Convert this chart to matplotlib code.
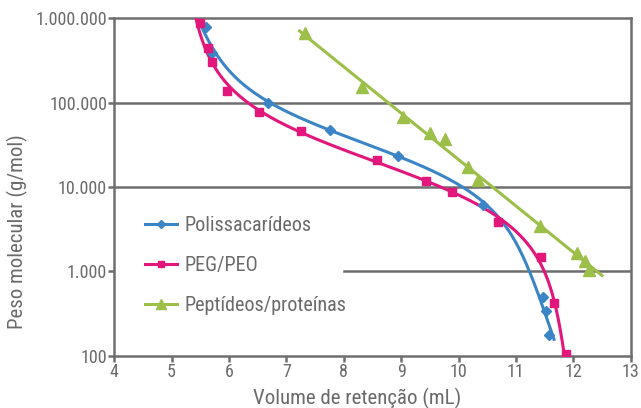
import numpy as np
import matplotlib.pyplot as plt

plt.rcParams['font.family'] = ['Roboto Condensed', 'Liberation Sans Narrow', 'Roboto', 'DejaVu Sans']

# values
poli_x = [5.60, 5.71, 6.68, 7.76, 8.95, 10.42, 11.48, 11.53, 11.58]
poli_y = [795000, 391000, 100000, 47400, 23500, 6120, 500, 339, 176]

peg_x = [5.50, 5.63, 5.70, 5.96, 6.52, 7.25, 8.58, 9.43, 9.89, 10.68, 11.43, 11.67, 11.87]
peg_y = [887000, 448000, 303000, 137000, 76900, 46100, 20900, 11900, 8650, 3810, 1470, 418, 105]

pep_x = [7.32, 8.31, 9.03, 9.50, 9.77, 10.16, 10.34, 11.42, 12.07, 12.21, 12.28]
pep_y = [664000, 152000, 67000, 44000, 36800, 17400, 12100, 3450, 1660, 1340, 1040]

labels = ['Polissacarídeos', 'PEG/PEO', 'Peptídeos/proteínas']
colors = ['#3b84c5', '#e2167b', '#9cbf4a']
yticks = [100, 1000, 10000, 100000, 1000000]
ytick_labels = ['100', '1.000', '10.000', '100.000', '1.000.000']

grey = '#6e6e6e'
txt = '#6a6a6a'


def sigmoid_fit(xs, ys, ext=0.05, n=400):
    # x = a + b*logistic((u - c)/s) + e*u with u = log10(y); c, s by grid search
    u = np.log10(np.asarray(ys, float))
    x = np.asarray(xs, float)
    best = None
    for c in np.linspace(3.0, 5.5, 101):
        for s in np.linspace(0.1, 1.2, 111):
            A = np.column_stack([np.ones_like(u), 1 / (1 + np.exp((u - c) / s)), u])
            coef, *_ = np.linalg.lstsq(A, x, rcond=None)
            r = np.sum((A @ coef - x) ** 2)
            if best is None or r < best[0]:
                best = (r, c, s, coef)
    _, c, s, coef = best
    uu = np.linspace(u.min() - ext, u.max() + ext, n)
    xx = coef[0] + coef[1] / (1 + np.exp((uu - c) / s)) + coef[2] * uu
    return xx, 10 ** uu


def main():
    fig = plt.figure(figsize=(6.41, 4.08), dpi=100)
    ax = fig.add_axes([0.178, 0.128, 0.806, 0.827])

    ax.set_yscale('log')
    ax.set_xlim(4, 13)
    ax.set_ylim(100, 1000000)

    for yv in [10000, 100000]:
        ax.axhline(yv, color=grey, lw=1.8, zorder=1)
    # this one is hidden under the legend box up to x = 8
    ax.axhline(1000, xmin=(8 - 4) / 9, color=grey, lw=1.8, zorder=2.5)

    cx, cy = sigmoid_fit(poli_x, poli_y)
    ax.plot(cx, cy, color=colors[0], lw=2.2, zorder=3)
    cx, cy = sigmoid_fit(peg_x, peg_y)
    ax.plot(cx, cy, color=colors[1], lw=2.2, zorder=3)
    k = np.polyfit(pep_x, np.log10(pep_y), 1)
    lx = np.array([7.23, 12.5])
    ax.plot(lx, 10 ** np.polyval(k, lx), color=colors[2], lw=2.2, zorder=3)

    ax.plot(poli_x, poli_y, 'D', color=colors[0], ms=5, zorder=4)
    ax.plot(peg_x, peg_y, 's', color=colors[1], ms=6, zorder=4)
    ax.plot(pep_x, pep_y, '^', color=colors[2], ms=8, zorder=4)

    # legend proxies
    h1, = ax.plot([], [], '-D', color=colors[0], lw=2.2, ms=4)
    h2, = ax.plot([], [], '-s', color=colors[1], lw=2.2, ms=5)
    h3, = ax.plot([], [], '-^', color=colors[2], lw=2.2, ms=7)
    leg = ax.legend([h1, h2, h3], labels, loc='upper left',
                    bbox_to_anchor=(0.02, 0.475), frameon=True, fancybox=False,
                    edgecolor='none', facecolor='white', framealpha=1,
                    handlelength=1.6, handletextpad=0.4, labelspacing=1.05,
                    prop={'size': 14.5}, labelcolor=txt, borderpad=0.5)
    leg.set_zorder(2)

    for s in ax.spines.values():
        s.set_color(grey)
        s.set_linewidth(1.8)

    ax.set_yticks(yticks)
    ax.set_yticklabels(ytick_labels)
    ax.yaxis.set_minor_locator(plt.NullLocator())
    ax.set_xticks(range(4, 14))
    ax.tick_params(colors=grey, labelcolor=txt, labelsize=13, width=1.8, length=4, pad=1)

    ax.set_xlabel('Volume de retenção (mL)', color=txt, fontsize=15)
    ax.set_ylabel('Peso molecular (g/mol)', color=txt, fontsize=15)
    ax.xaxis.set_label_coords(0.471, -0.094)
    ax.yaxis.set_label_coords(-0.166, 0.367)

    fig.savefig('out.png', dpi=100)


if __name__ == '__main__':
    main()
